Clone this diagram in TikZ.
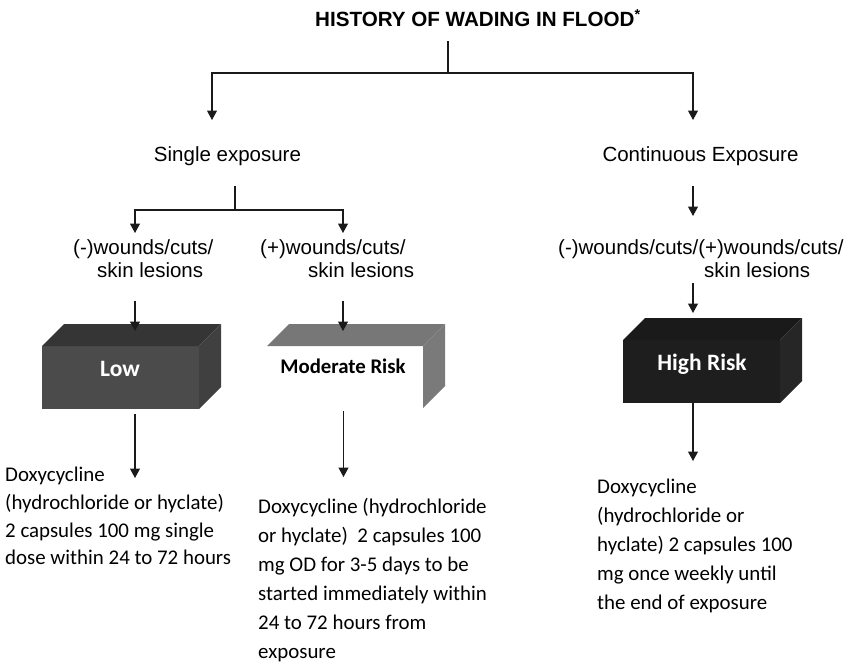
\documentclass[tikz,border=0pt]{standalone}
\usepackage{fontspec}
\setmainfont{Carlito}
\newfontfamily\arialf{Liberation Sans}
\usetikzlibrary{arrows.meta}
\definecolor{lowfront}{HTML}{4B4B4B}
\definecolor{lowtop}{HTML}{353535}
\definecolor{lowside}{HTML}{404040}
\definecolor{modgray}{HTML}{777777}
\definecolor{modside}{HTML}{7A7A7A}
\definecolor{highfront}{HTML}{1E1E1E}
\definecolor{hightop}{HTML}{1A1A1A}
\definecolor{highside}{HTML}{262626}
\definecolor{linec}{HTML}{1A1A1A}
\begin{document}
\begin{tikzpicture}[x=1pt,y=-1pt,
  conn/.style={line width=1.2pt, draw=linec},
  arr/.style={conn, -{Triangle[width=10pt,length=9.5pt]}},
  lbl/.style={font=\arialf\fontsize{20.5}{23.5}\selectfont, inner sep=0pt, anchor=base west},
  body/.style={inner sep=0pt, anchor=north west, align=left},
  boxtext/.style={inner sep=0pt, anchor=base, font=\bfseries\fontsize{23.5}{28}\selectfont}
]
\useasboundingbox (0,0) rectangle (856,664);

% title
\node[font=\arialf\bfseries\fontsize{20.6}{24}\selectfont, anchor=base west, inner sep=0pt] (title) at (315,26.7) {HISTORY OF WADING IN FLOOD\textsuperscript{*}};

% level 1 labels
\node[lbl, anchor=base] (single) at (227.5,161.5) {Single exposure};
\node[lbl, anchor=base] (cont) at (700.5,161.5) {Continuous Exposure};

% level 2 labels
\node[lbl] (negA) at (73,254) {(-)wounds/cuts/};
\node[lbl] (negB) at (97,277.5) {skin lesions};
\node[lbl] (posA) at (260,254) {(+)wounds/cuts/};
\node[lbl] (posB) at (308,277.5) {skin lesions};
\node[lbl] (bothA) at (558,254) {(-)wounds/cuts/(+)wounds/cuts/};
\node[lbl] (bothB) at (704,277.5) {skin lesions};

% cubes
% Low
\fill[lowfront] (42,346) rectangle (199,409);
\fill[lowtop] (42,346) -- (64,324) -- (221,324) -- (199,346) -- cycle;
\fill[lowside] (199,346) -- (221,324) -- (221,387) -- (199,409) -- cycle;
\node[boxtext, text=white] (low) at (120,376) {Low};
% Moderate
\fill[modgray] (267,346) -- (289,324) -- (445,324) -- (423,346) -- cycle;
\fill[modside] (423,346) -- (445,324) -- (445,386) -- (423,408) -- cycle;
\node[boxtext, font=\bfseries\fontsize{20.8}{25}\selectfont, text=black] (mod) at (343,373) {Moderate Risk};
% High
\fill[highfront] (623,340) rectangle (780,403);
\fill[hightop] (623,340) -- (645,318) -- (802,318) -- (780,340) -- cycle;
\fill[highside] (780,340) -- (802,318) -- (802,381) -- (780,403) -- cycle;
\node[boxtext, text=white] (high) at (702,370.7) {High Risk};

% body texts
\node[body, font=\fontsize{20.9}{27.7}\selectfont] (lowtxt) at (5,462.1) {\strut Doxycycline\\\strut (hydrochloride or hyclate)\\\strut 2 capsules 100 mg single\\\strut dose within 24 to 72 hours};
\node[body, font=\fontsize{20.9}{29}\selectfont] (modtxt) at (258,493.2) {\strut Doxycycline (hydrochloride\\\strut or hyclate)\ \ 2 capsules 100\\\strut mg OD for 3-5 days to be\\\strut started immediately within\\\strut 24 to 72 hours from\\\strut exposure};
\node[body, font=\fontsize{20.9}{29}\selectfont] (hightxt) at (597,473.2) {\strut Doxycycline\\\strut (hydrochloride or\\\strut hyclate) 2 capsules 100\\\strut mg once weekly until\\\strut the end of exposure};

% connector coordinates
\coordinate (t0) at (448,41);
\coordinate (tj) at (448,73);
\coordinate (sIn) at (212,120);
\coordinate (cIn) at (693,120);
\coordinate (s0) at (235,186);
\coordinate (sj) at (235,210);
\coordinate (negIn) at (135,233);
\coordinate (posIn) at (343,233);
\coordinate (c0) at (693,186);
\coordinate (bothIn) at (693,216);
\coordinate (n0) at (135,301);
\coordinate (lowIn) at (135,331);
\coordinate (p0) at (343,301);
\coordinate (modIn) at (343,331);
\coordinate (b0) at (693,283);
\coordinate (highIn) at (693,313);
\coordinate (lowOut) at (135,414);
\coordinate (lowTxtIn) at (135,478);
\coordinate (modOut) at (343.5,411);
\coordinate (modTxtIn) at (343.5,477);
\coordinate (highOut) at (693,403);
\coordinate (highTxtIn) at (693,461);

% connectors
\draw[conn] (t0) -- (tj);
\draw[arr] (tj) -| (sIn);
\draw[arr] (tj) -| (cIn);
\draw[conn] (s0) -- (sj);
\draw[arr] (sj) -| (negIn);
\draw[arr] (sj) -| (posIn);
\draw[arr] (c0) -- (bothIn);
\draw[arr] (n0) -- (lowIn);
\draw[arr] (p0) -- (modIn);
\draw[arr] (b0) -- (highIn);
\draw[arr] (lowOut) -- (lowTxtIn);
\draw[arr] (modOut) -- (modTxtIn);
\draw[arr] (highOut) -- (highTxtIn);
\end{tikzpicture}
\end{document}
